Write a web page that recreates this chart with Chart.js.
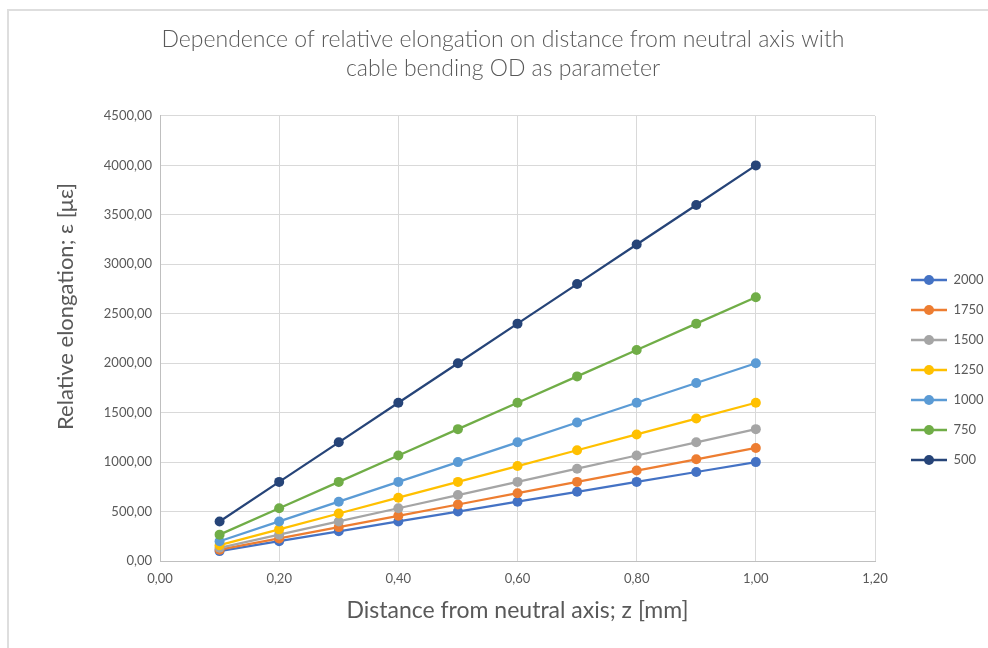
<!DOCTYPE html>
<html>
<head>
<meta charset="utf-8">
<script src="https://cdn.jsdelivr.net/npm/chart.js@4.4.1/dist/chart.umd.min.js"></script>
<style>
  html, body { margin: 0; padding: 0; background: #fff; }
  #frame { position: absolute; left: 7px; top: 9px; width: 1000px; height: 660px; border: 2px solid #dedede; }
  #wrap { position: absolute; left: 0; top: 0; width: 988px; height: 648px; }
</style>
</head>
<body>
<div id="frame"></div>
<div id="wrap"><canvas id="c" width="988" height="648"></canvas></div>
<script>
const zValues = [0.1, 0.2, 0.3, 0.4, 0.5, 0.6, 0.7, 0.8, 0.9, 1.0];
const seriesNames = ['2000', '1750', '1500', '1250', '1000', '750', '500'];
const od2000 = [100, 200, 300, 400, 500, 600, 700, 800, 900, 1000];
const od1750 = [114.29, 228.57, 342.86, 457.14, 571.43, 685.71, 800, 914.29, 1028.57, 1142.86];
const od1500 = [133.33, 266.67, 400, 533.33, 666.67, 800, 933.33, 1066.67, 1200, 1333.33];
const od1250 = [160, 320, 480, 640, 800, 960, 1120, 1280, 1440, 1600];
const od1000 = [200, 400, 600, 800, 1000, 1200, 1400, 1600, 1800, 2000];
const od750 = [266.67, 533.33, 800, 1066.67, 1333.33, 1600, 1866.67, 2133.33, 2400, 2666.67];
const od500 = [400, 800, 1200, 1600, 2000, 2400, 2800, 3200, 3600, 4000];
const seriesValues = [od2000, od1750, od1500, od1250, od1000, od750, od500];
const seriesColors = ['#4472C4', '#ED7D31', '#A5A5A5', '#FFC000', '#5B9BD5', '#70AD47', '#264478'];
const titleLines = ['Dependence of relative elongation on distance from neutral axis with', 'cable bending OD as parameter'];
const xTitle = 'Distance from neutral axis; z [mm]';
const yTitle = 'Relative elongation; \u03b5 [\u03bc\u03b5]';

const FONT = "Lato, 'Open Sans', sans-serif";
const TEXT = '#595959';

function legendIcon(color) {
  const cv = document.createElement('canvas');
  cv.width = 36; cv.height = 12;
  const g = cv.getContext('2d');
  g.strokeStyle = color; g.lineWidth = 2.5;
  g.beginPath(); g.moveTo(0, 6); g.lineTo(36, 6); g.stroke();
  g.fillStyle = color;
  g.beginPath(); g.arc(18, 6, 5, 0, Math.PI * 2); g.fill();
  return cv;
}

const datasets = seriesNames.map((name, i) => ({
  label: name,
  data: zValues.map((z, j) => ({ x: z, y: seriesValues[i][j] })),
  borderColor: seriesColors[i],
  backgroundColor: seriesColors[i],
  borderWidth: 2.25,
  pointRadius: 5,
  pointHoverRadius: 5,
  pointBorderWidth: 0,
  showLine: true,
  pointStyle: 'circle',
  order: seriesNames.length - i,
  legendIcon: legendIcon(seriesColors[i])
}));

// keep the legend box narrow and shift where it is painted;
// lift the y-axis title a little, as in the original
const layoutFix = {
  id: 'layoutFix',
  beforeLayout(chart) {
    const lg = chart.legend;
    if (!lg || lg._fixed) return;
    lg._fixed = true;
    const fit = lg.fit.bind(lg);
    lg.fit = function () { fit(); this.width = 85; };
    const draw = lg.draw.bind(lg);
    lg.draw = function () {
      const s = { left: this.left, right: this.right, top: this.top, bottom: this.bottom };
      this.left += 19; this.right = 988; this.top += 58; this.bottom += 58;
      draw();
      Object.assign(this, s);
    };
  },
  afterLayout(chart) {
    const y = chart.scales.y;
    if (!y || y._fixed) return;
    y._fixed = true;
    const drawTitle = y.drawTitle.bind(y);
    y.drawTitle = function () {
      const t = this.top, b = this.bottom;
      this.top -= 32; this.bottom -= 32;
      drawTitle();
      this.top = t; this.bottom = b;
    };
  }
};

new Chart(document.getElementById('c'), {
  type: 'scatter',
  data: { datasets },
  plugins: [layoutFix],
  options: {
    responsive: false,
    animation: false,
    events: [],
    layout: { padding: { left: 46, right: 28, top: 0, bottom: 24 } },
    plugins: {
      title: {
        display: true,
        text: titleLines,
        color: TEXT,
        font: { family: FONT, size: 23, weight: '300', lineHeight: 1.26 },
        padding: { top: 25, bottom: 33 }
      },
      legend: {
        display: true,
        position: 'right',
        align: 'center',
        labels: {
          color: TEXT,
          font: { family: FONT, size: 13 },
          usePointStyle: true,
          pointStyleWidth: 36,
          padding: 17,
          sort: (a, b) => a.datasetIndex - b.datasetIndex,
          generateLabels: (chart) => chart.data.datasets.map((ds, i) => ({
            text: ds.label,
            fillStyle: ds.borderColor,
            strokeStyle: ds.borderColor,
            fontColor: TEXT,
            lineWidth: 0,
            pointStyle: ds.legendIcon,
            datasetIndex: i,
            hidden: false
          }))
        }
      },
      tooltip: { enabled: false }
    },
    scales: {
      x: {
        type: 'linear',
        min: 0, max: 1.2,
        ticks: {
          stepSize: 0.2,
          color: TEXT,
          padding: 10,
          font: { family: FONT, size: 13 },
          callback: (v) => v.toFixed(2).replace('.', ',')
        },
        grid: { color: '#d9d9d9', lineWidth: 1, drawTicks: false },
        border: { color: '#bfbfbf', width: 1 },
        title: {
          display: true,
          text: xTitle,
          color: TEXT,
          font: { family: FONT, size: 23 },
          padding: { top: 8, bottom: 0 }
        },
        afterFit: (s) => { s.height = 63; }
      },
      y: {
        type: 'linear',
        min: 0, max: 4500,
        ticks: {
          stepSize: 500,
          color: TEXT,
          padding: 8,
          font: { family: FONT, size: 13 },
          callback: (v) => v.toFixed(2).replace('.', ',')
        },
        grid: { color: '#d9d9d9', lineWidth: 1, drawTicks: false },
        border: { color: '#bfbfbf', width: 1 },
        title: {
          display: true,
          text: yTitle,
          color: TEXT,
          font: { family: FONT, size: 22 },
          padding: { top: 7, bottom: 4 }
        },
        afterFit: (s) => { s.width = 114; }
      }
    }
  }
});
</script>
</body>
</html>
